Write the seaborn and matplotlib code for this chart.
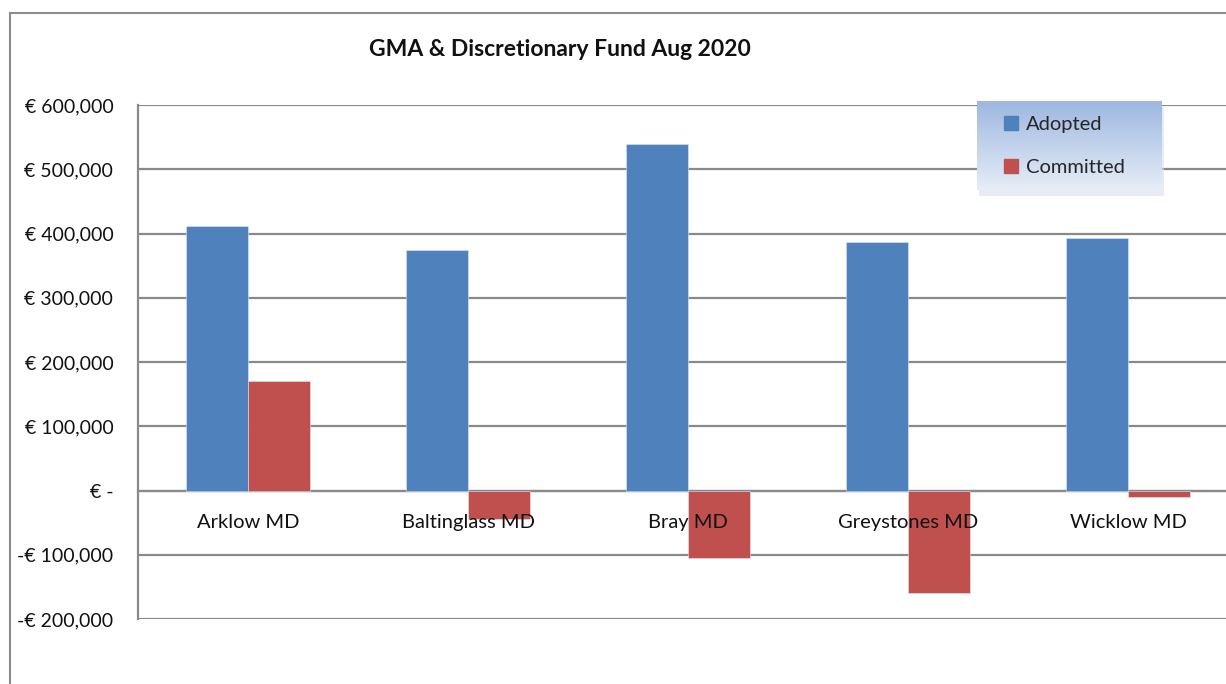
import numpy as np
import pandas as pd
import matplotlib.pyplot as plt
import seaborn as sns
from matplotlib import ticker
from matplotlib.patches import Rectangle

districts = ["Arklow MD", "Baltinglass MD", "Bray MD", "Greystones MD", "Wicklow MD"]
adopted = [411000, 375000, 539000, 387000, 393000]
committed = [171000, -45000, -105000, -160000, -10000]
series = ["Adopted", "Committed"]
colors = ["#4F81BD", "#C0504D"]
yticks = [-200000, -100000, 0, 100000, 200000, 300000, 400000, 500000, 600000]


def euro(v, pos=None):
    if v == 0:
        return "€ -"
    s = "€ {:,.0f}".format(abs(v))
    return "-" + s if v < 0 else s


df = pd.DataFrame({"District": districts, "Adopted": adopted, "Committed": committed})
long_df = pd.melt(df, id_vars=["District"], value_vars=series, var_name="Series", value_name="Value")

sns.set_style("white")
plt.rcParams["font.family"] = ["Lato", "DejaVu Sans"]

W, H = 1226, 684
fig = plt.figure(figsize=(W / 100, H / 100), dpi=100)

# outer chart border
fig.patches.append(Rectangle((10 / W, -0.1), 1.2, (H - 13) / H + 0.1, transform=fig.transFigure,
                             fill=False, edgecolor="#8c8c8c", linewidth=1.5))

ax = fig.add_axes([138 / W, (H - 619) / H, 1100 / W, 514 / H])
sns.barplot(ax=ax, data=long_df, x="District", y="Value", hue="Series", hue_order=series,
            palette=colors, width=0.565, saturation=1, edgecolor="#dfe7f2", linewidth=0.4)

ax.set_ylim(-200000, 600000)
ax.set_xlim(-0.5, 4.5)
ax.set_yticks(yticks)
ax.yaxis.set_major_formatter(ticker.FuncFormatter(euro))
ax.grid(axis="y", color="#8a8a8a", linewidth=1.6)
ax.set_axisbelow(True)
ax.xaxis.set_zorder(5)  # category labels sit over the negative bars
ax.set(xlabel=None, ylabel=None)

for s in ["top", "right"]:
    ax.spines[s].set_visible(False)
ax.spines["left"].set_color("#8a8a8a")
ax.spines["left"].set_linewidth(1.6)
ax.spines["bottom"].set_position(("data", 0))
ax.spines["bottom"].set_color("#8a8a8a")
ax.spines["bottom"].set_linewidth(1.6)
ax.spines["bottom"].set_zorder(0.6)

ax.tick_params(axis="y", direction="out", length=4.3, width=1.4, color="#8a8a8a",
               labelsize=14, pad=13.5, labelcolor="#111111")
ax.tick_params(axis="x", which="major", length=0, labelsize=14.5, pad=17, labelcolor="#111111")
ax.set_xticks(np.arange(-0.5, 5.0, 1.0), minor=True)
ax.tick_params(axis="x", which="minor", direction="out", length=4.3, width=1.4, color="#8a8a8a")
ax.get_legend().remove()

fig.text(560 / W, 1 - 50 / H, "GMA & Discretionary Fund Aug 2020", ha="center", va="center",
         fontsize=16.5, fontweight="bold", color="#111111")

# legend with gradient box
lx0, ly0, lx1, ly1 = 977, 101, 1162, 190
shadow = fig.add_axes([(lx0 + 2) / W, 1 - (ly1 + 6) / H, (lx1 - lx0) / W, (ly1 - ly0) / H])
shadow.imshow(np.zeros((2, 2, 4)) + [0.85, 0.88, 0.93, 0.6], aspect="auto")
shadow.axis("off")
lax = fig.add_axes([lx0 / W, 1 - ly1 / H, (lx1 - lx0) / W, (ly1 - ly0) / H])
grad = np.linspace(0, 1, 100)[:, None]
top_c = np.array([0.62, 0.72, 0.88])
bot_c = np.array([0.90, 0.93, 0.97])
img = top_c * (1 - grad[..., None]) + bot_c * grad[..., None]
lax.imshow(np.repeat(img, 2, axis=1), aspect="auto")
lax.axis("off")
handles = [Rectangle((0, 0), 1, 1, color=c) for c in colors]
fig.legend(handles, series, loc="upper left", bbox_to_anchor=(990 / W, 1 - 102 / H),
           frameon=False, fontsize=14.5, handlelength=0.7, handleheight=0.7,
           handletextpad=0.4, labelspacing=1.3, borderpad=0.2)

fig.savefig("out.png", dpi=100, facecolor="white")
